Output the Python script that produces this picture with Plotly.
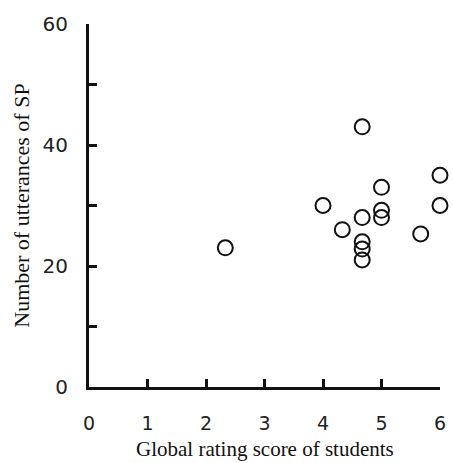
import plotly.graph_objects as go

# Data
rating = [2.33, 4.0, 4.33, 4.67, 4.67, 4.67, 4.67, 4.67, 5.0, 5.0, 5.0, 5.67, 6.0, 6.0]
utterances = [23, 30, 26, 43, 28, 24, 22.8, 21, 33, 29.2, 28, 25.3, 35, 30]

x_ticks = [0, 1, 2, 3, 4, 5, 6]
y_ticks = [0, 10, 20, 30, 40, 50, 60]
y_labels = ["0", "", "20", "", "40", "", "60"]

fig = go.Figure()
fig.add_trace(go.Scatter(
    x=rating, y=utterances, mode="markers",
    marker=dict(symbol="circle-open", size=15, color="#111", line=dict(width=2)),
    cliponaxis=False, showlegend=False,
))

tick_font = dict(family="DejaVu Sans", size=19, color="#222")
fig.update_xaxes(
    range=[0, 6], tickvals=x_ticks, ticktext=[str(v) for v in x_ticks],
    showgrid=False, zeroline=False, showline=True, linewidth=3, linecolor="#111",
    ticks="inside", ticklen=8, tickwidth=3, tickcolor="#111",
    tickfont=tick_font, ticklabelstandoff=17,
)
fig.update_yaxes(
    range=[0, 60], tickvals=y_ticks, ticktext=y_labels,
    showgrid=False, zeroline=False, showline=True, linewidth=3, linecolor="#111",
    ticks="inside", ticklen=8, tickwidth=3, tickcolor="#111",
    tickfont=dict(family="DejaVu Sans", size=20, color="#222"), ticklabelstandoff=14,
)

title_font = dict(family="Liberation Serif", size=21, color="#111")
fig.add_annotation(text="Global rating score of students", xref="paper", yref="paper",
                   x=0.5, y=-0.17, xanchor="center", yanchor="middle",
                   showarrow=False, font=title_font)
fig.add_annotation(text="Number of utterances of SP", xref="paper", yref="paper",
                   x=-0.193, y=0.5, xanchor="center", yanchor="middle", textangle=-90,
                   showarrow=False, font=dict(family="Liberation Serif", size=22, color="#111"))

fig.update_layout(
    width=453, height=463,
    margin=dict(l=89, r=7, t=24, b=76),
    plot_bgcolor="white", paper_bgcolor="white",
)

fig.write_html("out.html")
